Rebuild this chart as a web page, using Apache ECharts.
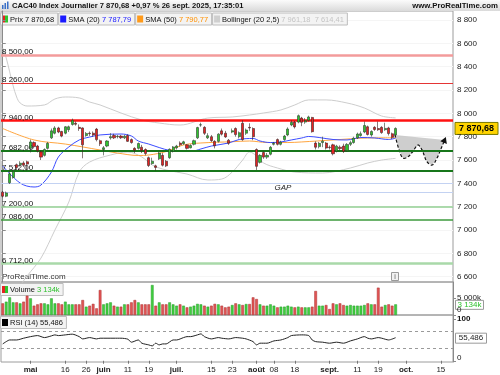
<!DOCTYPE html>
<html><head><meta charset="utf-8">
<script src="https://cdn.jsdelivr.net/npm/echarts@6/dist/echarts.min.js"></script>
<style>html,body{margin:0;padding:0;background:#fff}#c{width:500px;height:375px}</style>
</head><body><div id="c"></div>
<script>
// ---------- DATA ----------
const tradingMonths = [
  ['2025-04', [17,22,23,24,25,28,29,30]],
  ['2025-05', [2,5,6,7,8,9,12,13,14,15,16,19,20,21,22,23,26,27,28,29,30]],
  ['2025-06', [2,3,4,5,6,9,10,11,12,13,16,17,18,19,20,23,24,25,26,27,30]],
  ['2025-07', [1,2,3,4,7,8,9,10,11,14,15,16,17,18,21,22,23,24,25,28,29,30,31]],
  ['2025-08', [1,4,5,6,7,8,11,12,13,14,15,18,19,20,21,22,25,26,27,28,29]],
  ['2025-09', [1,2,3,4,5,8,9,10,11,12,15,16,17,18,19,22,23,24,25,26]]
];
const futureMonths = [
  ['2025-09', [29,30]],
  ['2025-10', [1,2,3,6,7,8,9,10,13,14,15,16,17,20]]
];
const opens = [7325,7290,7405,7450,7560,7560,7575,7585,7700,7750,7720,7670,7640,7700,7790,7830,7875,7845,7830,7860,
 7905,7915,7880,7875,7810,7830,7830,7865,7765,7690,7720,7790,7810,7800,7805,7790,7810,7775,7700,7700,
 7710,7690,7620,7570,7550,7610,7640,7590,7620,7675,7705,7745,7740,7730,7705,7735,7790,7900,7880,7790,
 7800,7760,7760,7850,7830,7770,7840,7870,7800,7915,7830,7880,7870,7690,7580,7665,7625,7650,7735,7775,
 7735,7775,7815,7900,7925,7925,7960,7925,7940,7965,7745,7715,7750,7745,7710,7730,7675,7710,7720,7680,
 7735,7750,7790,7810,7840,7885,7815,7880,7870,7880,7860,7875,7825,7815];
const closes = [7290,7318,7482,7502,7536,7573,7555,7565,7755,7715,7680,7625,7690,7743,7850,7875,7840,7805,7885,7885,
 7940,7907,7870,7730,7828,7826,7815,7775,7740,7705,7763,7800,7790,7804,7791,7804,7760,7750,7684,7742,
 7683,7656,7553,7590,7537,7660,7556,7550,7692,7712,7720,7730,7756,7700,7725,7766,7878,7902,7829,7808,
 7766,7722,7822,7822,7798,7744,7851,7818,7834,7775,7857,7875,7800,7546,7640,7625,7640,7709,7743,7735,
 7753,7805,7866,7923,7884,7980,7923,7938,7969,7843,7710,7743,7762,7703,7707,7654,7719,7698,7674,7734,
 7749,7787,7823,7825,7896,7819,7845,7862,7860,7835,7871,7827,7795,7870.68];
const highs = [7335,7330,7510,7515,7570,7590,7590,7595,7775,7760,7730,7680,7700,7755,7870,7890,7885,7850,7890,7895,
 7955,7930,7905,7880,7840,7845,7845,7875,7775,7720,7770,7830,7825,7815,7815,7815,7820,7785,7710,7750,
 7730,7700,7630,7620,7560,7670,7660,7600,7700,7720,7730,7760,7765,7735,7735,7775,7885,7920,7890,7830,
 7815,7770,7830,7870,7850,7780,7870,7880,7845,7940,7870,7915,7880,7700,7650,7675,7660,7720,7755,7785,
 7765,7815,7880,7940,7935,7990,7970,7960,7980,7970,7760,7755,7800,7755,7725,7740,7730,7725,7740,7745,
 7765,7800,7835,7845,7930,7895,7855,7890,7930,7890,7920,7885,7835,7880];
const lows = [7280,7282,7395,7440,7520,7545,7540,7510,7665,7700,7665,7600,7630,7690,7780,7820,7830,7795,7820,7840,
 7895,7895,7850,7615,7800,7805,7800,7760,7720,7640,7710,7775,7780,7785,7780,7780,7755,7740,7660,7690,
 7660,7640,7540,7560,7510,7600,7545,7540,7610,7665,7690,7715,7730,7690,7700,7725,7780,7885,7815,7780,
 7755,7700,7750,7810,7790,7730,7830,7800,7785,7765,7815,7850,7770,7515,7570,7610,7610,7640,7725,7725,
 7725,7765,7805,7890,7870,7915,7890,7910,7930,7835,7690,7700,7710,7690,7690,7640,7665,7685,7660,7670,
 7720,7740,7780,7800,7830,7810,7800,7850,7850,7825,7850,7810,7780,7805];
const volumesK = [3430,3920,5190,3720,3720,3430,3920,5680,4900,2740,3135,3430,3430,3135,4900,3430,3430,3135,3920,3135,
 3135,3135,3135,4410,2450,2740,3280,1960,7350,3135,3430,3720,2740,2450,2450,3135,3135,3720,4410,3720,
 3135,3135,3135,8820,2740,3720,3135,3135,3720,3135,2740,3135,2740,2250,2450,2740,3280,3135,2740,2450,
 2740,3280,3135,2740,2250,2450,2940,3430,3135,2940,3230,3230,5190,4700,3135,2740,2740,3135,2740,2250,
 2450,2450,2740,2450,2250,2450,2250,2250,2250,2450,7060,2740,2740,2940,1760,3430,3135,3430,2940,2740,
 2940,2740,2740,2740,2940,3430,3135,3135,8040,2450,2940,3135,2740,3134];
// indicator lines: [category index] / [value]
const sma20Idx = [0,5,9,11,14,16,19,22,25,28,34,37,39,42,45,48,51,54,57,60,65,68,72,74,77,80,83,86,88,91,95,99,103,107,111,113];
const sma20Val = [7549,7403,7369,7386,7497,7626,7712,7772,7797,7815,7823,7806,7763,7737,7707,7682,7673,7673,7695,7720,7746,7776,7785,7763,7750,7755,7772,7789,7802,7793,7776,7772,7793,7789,7776,7787.79];
const sma50Idx = [0,9,18,28,33,39,42,47,52,57,66,71,76,82,86,95,105,113];
const sma50Val = [7870,7772,7737,7686,7660,7639,7643,7673,7729,7746,7757,7763,7750,7750,7755,7772,7789,7790.77];
const bbUpIdx = [0,1,2,3,4,5,7,12,15,18,22,25,28,34,40,45,51,59,66,71,75,80,84,88,93,99,104,109,113];
const bbUpVal = [8560,8475,8355,8235,8140,8089,8063,8072,8123,8140,8132,8097,8072,8003,7943,7917,7900,7960,7969,7986,8003,8029,8072,8115,8115,8089,8046,7977,7961.18];
const bbLowIdx = [3,7,11,15,19,22,25,31,36,40,43,47,53,59,63,66,69,71,73,75,79,84,92,100,105,109,113];
const bbLowVal = [6443,6606,6760,7000,7240,7497,7583,7643,7669,7626,7557,7515,7480,7429,7437,7497,7600,7669,7635,7575,7532,7497,7489,7532,7575,7600,7614.41];
const rsiIdx = [0,1,2,4,6,8,10,12,14,15,16,18,20,22,23,25,27,28,32,34,36,37,39,40,42,43,44,45,46,47,49,50,52,53,54,56,57,58,60,62,63,65,67,69,70,72,73,74,76,78,80,82,83,86,88,89,90,92,94,96,98,100,102,104,105,106,108,109,111,113];
const rsiVal = [40.5,46,50,50,54.2,58,60.5,55.7,59.8,62.2,60.5,62.2,63.9,58,52.5,55.7,52.5,54.2,54.2,54.2,51.8,44.6,50,42.2,38.1,35.7,42.2,38.1,40.5,40.5,50,50,55.7,58,58,62.2,64.6,58,52.5,55.7,54.2,52.5,55.7,54.2,52.5,46,38.1,42.2,42.2,47.7,50,55.7,60.5,62.2,60.5,50,46,44.6,42.2,44.6,42.2,47.7,52.5,58,54.2,52.5,55.7,54.2,50,55.486];
// drawn horizontal levels
const levelValues = [8500, 8260, 7940, 7682, 7512, 7200, 7086, 6712];
const gapValues = [7402, 7325];
// future path sketch (category index / price)
const projIdx = [112.8,114,115.1,116.5,117.9,119.4,120.6,122,123.5,124.9,126.3,126.9];
const projVal = [7815,7686,7617,7626,7671,7729,7686,7586,7557,7617,7714,7757];
const projTopIdx = [112.8, 127.2];
const projTopVal = [7815, 7772];
// axis ticks
const priceTicks = [6600,6800,7000,7200,7400,7600,7800,8000,8200,8400,8600,8800];
const volumeTicks = [0, 5000];
const rsiTicks = [0, 100];
const rsiLevels = [30, 70];
const tickDates = ['2025-05-02','2025-05-16','2025-05-26','2025-06-02','2025-06-11','2025-06-19','2025-07-01','2025-07-15','2025-07-23','2025-08-01','2025-08-08','2025-08-18','2025-09-01','2025-09-11','2025-09-19','2025-10-01','2025-10-15'];
const tickTexts = ['mai','16','26','juin','11','19','juil.','15','23','août','08','18','sept.','11','19','oct.','15'];

// ---------- BUILD ----------
const pad = d => (d < 10 ? '0' : '') + d;
const categories = [];
tradingMonths.concat(futureMonths).forEach(([m, ds]) => ds.forEach(d => categories.push(m + '-' + pad(d))));
const nCat = categories.length;
const fmtK = n => String(n).replace(/\B(?=(\d{3})+(?!\d))/g, ' ');
const fmtDec = (v, d) => { const s = v.toFixed(d).split('.'); return fmtK(s[0]) + (s[1] ? ',' + s[1] : ''); };
const FONT = 'Liberation Sans, Arial, sans-serif';
const UP = '#2fc52f', DOWN = '#e52222';
const pairs = (a, b) => a.map((x, k) => [x, b[k]]);

const levelStyle = [
  ['#f39b9b', 2.5], ['#e53535', 1.2], ['#ff1111', 2.6], ['#17761a', 2],
  ['#17761a', 2], ['#92cf92', 1.5], ['#3d9a3d', 1.5], ['#a9d9a9', 2.5]
];
const showTick = (idx, val) => tickDates.indexOf(val) >= 0;

const chart = echarts.init(document.getElementById('c'), null, {renderer: 'canvas', width: 500, height: 375});
const L = 1, R = 47;
const border = {show: true, borderColor: '#9c9c9c', borderWidth: 1, backgroundColor: 'transparent'};

const markLevels = levelValues.map((v, k) => ({
  yAxis: v,
  lineStyle: {color: levelStyle[k][0], width: levelStyle[k][1], type: 'solid'},
  label: {show: true, position: 'insideStartTop', formatter: fmtDec(v, 2), color: '#111', fontSize: 8, fontFamily: FONT, distance: [1, -1]}
})).concat(gapValues.map(v => ({
  yAxis: v, lineStyle: {color: '#c3d2f2', width: 1.2, type: 'solid'}, label: {show: false}
})));

const option = {
  animation: false,
  backgroundColor: '#ffffff',
  textStyle: {fontFamily: FONT},
  grid: [
    Object.assign({left: L, right: R, top: 11, height: 271}, border),
    Object.assign({left: L, right: R, top: 282, height: 33}, border),
    Object.assign({left: L, right: R, top: 315, height: 47}, border)
  ],
  xAxis: [
    {type: 'category', gridIndex: 0, data: categories, boundaryGap: true, show: false},
    {type: 'category', gridIndex: 1, data: categories, boundaryGap: true, show: false},
    {type: 'category', gridIndex: 2, data: categories, boundaryGap: true,
      axisLine: {show: false},
      axisTick: {show: true, interval: showTick, alignWithLabel: true, length: 3, lineStyle: {color: '#777'}},
      axisLabel: {interval: showTick, margin: 4, fontSize: 8, color: '#222', fontFamily: FONT,
        formatter: val => { const t = tickTexts[tickDates.indexOf(val)]; return /\d/.test(t) ? t : '{b|' + t + '}'; },
        rich: {b: {fontWeight: 'bold', fontSize: 8, color: '#222', fontFamily: FONT}}}},
    {type: 'value', gridIndex: 0, min: -0.5, max: nCat - 0.5, show: false}
  ],
  yAxis: [
    {type: 'value', gridIndex: 0, position: 'right', min: 6555, max: 8877, splitNumber: 12,
      axisLine: {show: true, lineStyle: {color: '#8a8a8a'}},
      axisTick: {show: true, length: 3, customValues: priceTicks, lineStyle: {color: '#8a8a8a'}},
      axisLabel: {customValues: priceTicks, formatter: v => fmtK(v), fontSize: 8, color: '#222', margin: 4, fontFamily: FONT},
      splitLine: {show: true, lineStyle: {color: '#f5f5f5'}}},
    {type: 'value', gridIndex: 1, position: 'right', min: 0, max: 9706,
      axisLine: {show: true, lineStyle: {color: '#8a8a8a'}},
      axisTick: {show: true, length: 3, customValues: volumeTicks, lineStyle: {color: '#8a8a8a'}},
      axisLabel: {customValues: volumeTicks, fontSize: 8, color: '#222', margin: 4, fontFamily: FONT,
        formatter: v => v === 0 ? '{z|0}' : fmtK(v) + 'k',
        rich: {z: {fontSize: 8, color: '#222', padding: [0, 0, 10, 0], fontFamily: FONT}}},
      splitLine: {show: false}},
    {type: 'value', gridIndex: 2, position: 'right', min: -3, max: 110,
      axisLine: {show: true, lineStyle: {color: '#8a8a8a'}},
      axisTick: {show: true, length: 3, customValues: rsiTicks, lineStyle: {color: '#8a8a8a'}},
      axisLabel: {customValues: rsiTicks, fontSize: 8, color: '#222', margin: 4, fontFamily: FONT,
        formatter: v => v === 0 ? '{z|0}' : '{h|' + v + '}',
        rich: {z: {fontSize: 8, color: '#222', padding: [0, 0, 5, 0], fontFamily: FONT},
               h: {fontSize: 8, color: '#111', fontWeight: 'bold', fontFamily: FONT, padding: [0, 0, 0, 0]}}},
      splitLine: {show: false}}
  ],
  series: [
    {type: 'line', name: 'BBup', xAxisIndex: 3, yAxisIndex: 0, data: pairs(bbUpIdx, bbUpVal), smooth: 0.35,
      symbol: 'none', lineStyle: {color: '#cdcdcd', width: 1}, z: 2},
    {type: 'line', name: 'BBlow', xAxisIndex: 3, yAxisIndex: 0, data: pairs(bbLowIdx, bbLowVal), smooth: 0.35,
      symbol: 'none', lineStyle: {color: '#cdcdcd', width: 1}, z: 2,
      markLine: {silent: true, symbol: ['none', 'none'], animation: false, data: markLevels},
      markPoint: {silent: true, data: [{coord: [80.6, 7362], symbolSize: 0,
        label: {show: true, position: 'inside', formatter: 'GAP', fontStyle: 'italic', fontSize: 8, color: '#222', fontFamily: FONT}}]}},
    {type: 'custom', xAxisIndex: 3, yAxisIndex: 0, data: [[0, 0]], z: 3, silent: true,
      renderItem: (params, api) => {
        const pts = projIdx.map((x, k) => api.coord([x, projVal[k]]));
        const t0 = api.coord([projTopIdx[0], projTopVal[0]]);
        const t1 = api.coord([projTopIdx[1], projTopVal[1]]);
        const poly = [t0, t1].concat(pts.slice().reverse());
        const a = pts[pts.length - 2], b = pts[pts.length - 1];
        let dx = b[0] - a[0], dy = b[1] - a[1]; const len = Math.hypot(dx, dy) || 1; dx /= len; dy /= len;
        const tip = [b[0] + dx * 5, b[1] + dy * 5];
        const base = [b[0] - dx * 1, b[1] - dy * 1];
        const tri = [tip, [base[0] - dy * 3.5, base[1] + dx * 3.5], [base[0] + dy * 3.5, base[1] - dx * 3.5]];
        return {type: 'group', children: [
          {type: 'polygon', shape: {points: poly, smooth: 0}, style: {fill: 'rgba(190,190,190,0.75)', stroke: 'none'}},
          {type: 'polyline', shape: {points: pts, smooth: 0.35}, style: {stroke: '#111', lineWidth: 1.2, lineDash: [3, 2], fill: 'none'}},
          {type: 'polygon', shape: {points: tri}, style: {fill: '#111'}}
        ]};
      }},
    {type: 'line', name: 'SMA50', xAxisIndex: 3, yAxisIndex: 0, data: pairs(sma50Idx, sma50Val), smooth: 0.35,
      symbol: 'none', lineStyle: {color: '#ffa640', width: 1}, z: 3},
    {type: 'line', name: 'SMA20', xAxisIndex: 3, yAxisIndex: 0, data: pairs(sma20Idx, sma20Val), smooth: 0.35,
      symbol: 'none', lineStyle: {color: '#3b4cff', width: 1}, z: 3},
    {type: 'candlestick', xAxisIndex: 0, yAxisIndex: 0, z: 5, barWidth: 2.6,
      data: opens.map((o, i) => [o, closes[i], lows[i], highs[i]]),
      itemStyle: {color: UP, color0: DOWN, borderColor: '#2c3a2c', borderColor0: '#3a2222', borderWidth: 0.6}},
    {type: 'bar', xAxisIndex: 1, yAxisIndex: 1, barWidth: 2.7,
      data: volumesK.map((v, i) => ({value: v, itemStyle: {color: closes[i] >= opens[i] ? '#3fcf3f' : '#e25555',
        borderColor: closes[i] >= opens[i] ? '#2a9a2a' : '#a83030', borderWidth: 0.5}}))},
    {type: 'line', xAxisIndex: 2, yAxisIndex: 2, data: pairs(rsiIdx, rsiVal), smooth: 0.25, symbol: 'none',
      lineStyle: {color: '#222', width: 1},
      markLine: {silent: true, symbol: ['none', 'none'], animation: false,
        data: rsiLevels.map(v => ({yAxis: v, lineStyle: {color: '#9a9a9a', width: 1, type: [3, 3]}, label: {show: false}}))}}
  ]
};
chart.setOption(option);

// ---------- HEADER / LEGENDS / TAGS ----------
const last = closes.length - 1;
const pct = (closes[last] / closes[last - 1] - 1) * 100;
const lastDate = '26 sept. 2025, 17:35:01';
const LF = 7.5;
const measure = (() => { const c = document.createElement('canvas').getContext('2d'); return (t, bold) => { c.font = (bold ? 'bold ' : '') + LF + 'px ' + FONT; return c.measureText(t).width; }; })();
const txt = (x, y, text, o) => ({type: 'text', x, y, style: Object.assign({text, fontFamily: FONT, fontSize: 8, fill: '#111', verticalAlign: 'middle'}, o || {})});
const box = (x, y, w, h, fill, stroke) => ({type: 'rect', shape: {x, y, width: w, height: h}, style: {fill, stroke, lineWidth: 1}});
const g = [];
g.push({type: 'rect', shape: {x: 0, y: 0, width: 500, height: 11}, style: {fill: new echarts.graphic.LinearGradient(0, 0, 0, 1, [{offset: 0, color: '#fbfbfb'}, {offset: 1, color: '#dadada'}])}});
g.push({type: 'rect', shape: {x: 2, y: 5, width: 1.5, height: 4}, style: {fill: '#3a70c8'}});
g.push({type: 'rect', shape: {x: 4.5, y: 3, width: 1.5, height: 6}, style: {fill: '#3a70c8'}});
g.push({type: 'rect', shape: {x: 7, y: 1.5, width: 1.5, height: 7.5}, style: {fill: '#3a70c8'}});
g.push(txt(12, 6, 'CAC40 Index Journalier ' + fmtDec(closes[last], 2) + ' +' + fmtDec(pct, 2) + ' % ' + lastDate, {fontWeight: 'bold', fontSize: 7.6}));
g.push(txt(498, 6, 'www.ProRealTime.com', {fontWeight: 'bold', fontSize: 7.8, align: 'right'}));
// legend row
const ly = 12.5, lh = 12;
const richStyles = {k: {fill: '#111', fontSize: LF, fontFamily: FONT}, b: {fill: '#1a1aff', fontSize: LF, fontFamily: FONT},
  o: {fill: '#ff9000', fontSize: LF, fontFamily: FONT}, g: {fill: '#c4c4c4', fontSize: LF, fontFamily: FONT}, v: {fill: '#2ec02e', fontSize: LF, fontFamily: FONT}};
const legendBox = (x, y, sq, parts) => {
  const plain = parts.map(p => p[1]).join('');
  const w = 13 + measure(plain);
  const rich = parts.map(p => '{' + p[0] + '|' + p[1] + '}').join('');
  const arr = [box(x + 0.5, y + 0.5, w, lh, '#f3f3f3', '#bdbdbd')];
  if (sq === 'pr') {
    arr.push({type: 'rect', shape: {x: x + 2, y: y + 3, width: 3, height: 7}, style: {fill: DOWN}});
    arr.push({type: 'rect', shape: {x: x + 5, y: y + 3, width: 3, height: 7}, style: {fill: UP}});
  } else {
    arr.push({type: 'rect', shape: {x: x + 2, y: y + 3, width: 6, height: 7}, style: {fill: sq}});
  }
  arr.push({type: 'text', x: x + 10, y: y + lh / 2 + 1, style: {rich: richStyles, text: rich, verticalAlign: 'middle', fontFamily: FONT, fontSize: LF}});
  return {arr, w};
};
const legends = [
  ['pr', [['k', 'Prix ' + fmtDec(closes[last], 2)]]],
  ['#1a1aff', [['k', 'SMA (20) '], ['b', fmtDec(sma20Val[sma20Val.length - 1], 2)]]],
  ['#ff9a1a', [['k', 'SMA (50) '], ['o', fmtDec(sma50Val[sma50Val.length - 1], 2)]]],
  ['#cfcfcf', [['k', 'Bollinger (20 2,5) '], ['g', fmtDec(bbUpVal[bbUpVal.length - 1], 2) + '  ' + fmtDec(bbLowVal[bbLowVal.length - 1], 2)]]]
];
let lx = 0;
legends.forEach(l => { const r = legendBox(lx, ly, l[0], l[1]); r.arr.forEach(e => g.push(e)); lx += r.w + 1; });
g.push(txt(2, 277, 'ProRealTime.com', {fill: '#333'}));
g.push(box(391.5, 272.5, 7, 8, '#f2f2f2', '#9a9a9a'));
g.push(txt(395, 277, 'i', {align: 'center', fill: '#555', fontSize: 7}));
legendBox(0, 283, 'pr', [['k', 'Volume '], ['v', fmtK(volumesK[last]) + 'k']]).arr.forEach(e => g.push(e));
legendBox(0, 316, '#000', [['k', 'RSI (14) ' + fmtDec(rsiVal[rsiVal.length - 1], 3)]]).arr.forEach(e => g.push(e));
// right-side value tags
const py = chart.convertToPixel({yAxisIndex: 0}, closes[last]);
g.push({type: 'rect', shape: {x: 455, y: py - 6, width: 43, height: 12}, style: {fill: '#ffd400', stroke: '#7a7a00', lineWidth: 1}});
g.push(txt(476.5, py + 0.5, fmtDec(closes[last], 2), {align: 'center', fontWeight: 'bold', fontSize: 9, fill: '#000'}));
const vy = chart.convertToPixel({yAxisIndex: 1}, volumesK[last]);
g.push(box(455.5, vy - 4, 28, 9, '#ffffff', '#9a9a9a'));
g.push(txt(469.5, vy + 0.5, fmtK(volumesK[last]) + 'k', {align: 'center', fill: '#2ec02e'}));
const ry = chart.convertToPixel({yAxisIndex: 2}, rsiVal[rsiVal.length - 1]);
g.push(box(455.5, ry - 4.5, 31, 10, '#ffffff', '#9a9a9a'));
g.push(txt(471, ry + 0.5, fmtDec(rsiVal[rsiVal.length - 1], 3), {align: 'center', fill: '#222'}));
chart.setOption({graphic: {elements: g}});
</script>
</body></html>
